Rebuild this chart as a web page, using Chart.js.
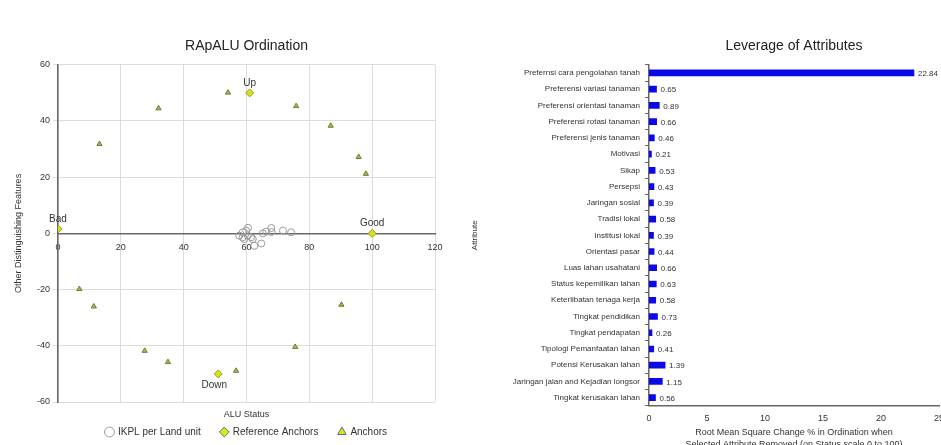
<!DOCTYPE html>
<html>
<head>
<meta charset="utf-8">
<script src="https://cdn.jsdelivr.net/npm/chart.js@4.4.1/dist/chart.umd.min.js"></script>
<style>
  html, body { margin: 0; padding: 0; background: #fff; overflow: hidden; }
  #leftBox { position: absolute; left: 0; top: 0; width: 470px; height: 445px; }
  #rightBox { position: absolute; left: 470px; top: 0; width: 485px; height: 450px; }
</style>
</head>
<body>
<div id="leftBox"><canvas id="ordinationChart" width="470" height="445"></canvas></div>
<div id="rightBox"><canvas id="leverageChart" width="485" height="450"></canvas></div>
<script>
// ---- ordination data ----
const ikplX = [57.7, 58.8, 59.9, 60.4, 58.8, 59.3, 61.5, 62.0, 62.5, 64.7, 65.2, 66.3, 67.9, 68.0, 71.6, 74.2, 60.5];
const ikplY = [-0.8, 0.4, 1.0, -0.8, -1.4, -2.0, -1.4, -2.0, -4.4, -3.6, 0.0, 0.6, 1.9, 0.5, 1.0, 0.4, 2.0];

const refNames = ['Good', 'Bad', 'Up', 'Down'];
const refX = [100, 0, 61, 51];
const refY = [0, 1.6, 50, -50];

const anchorX = [13.2, 32, 54.1, 75.8, 86.8, 95.7, 98, 6.8, 11.4, 27.6, 35, 56.7, 75.5, 90.2];
const anchorY = [31.8, 44.5, 50.1, 45.3, 38.3, 27.2, 21.2, -19.8, -26, -41.8, -45.8, -48.9, -40.4, -25.4];

// ---- leverage data ----
const attributes = [
  'Prefernsi cara pengolahan tanah',
  'Preferensi variasi tanaman',
  'Preferensi orientasi tanaman',
  'Preferensi rotasi tanaman',
  'Preferensi jenis tanaman',
  'Motivasi',
  'Sikap',
  'Persepsi',
  'Jaringan sosial',
  'Tradisi lokal',
  'Institusi lokal',
  'Orientasi pasar',
  'Luas lahan usahatani',
  'Status kepemilikan lahan',
  'Keterlibatan tenaga kerja',
  'Tingkat pendidikan',
  'Tingkat pendapatan',
  'Tipologi Pemanfaatan lahan',
  'Potensi Kerusakan lahan',
  'Jaringan jalan and Kejadian longsor',
  'Tingkat kerusakan lahan'
];
const leverage = [22.84, 0.65, 0.89, 0.66, 0.46, 0.21, 0.53, 0.43, 0.39, 0.58, 0.39, 0.44, 0.66, 0.63, 0.58, 0.73, 0.26, 0.41, 1.39, 1.15, 0.56];

const xTicks = [0, 20, 40, 60, 80, 100, 120];

const FONT = '"Liberation Sans", Arial, sans-serif';
Chart.defaults.font.family = FONT;
Chart.defaults.color = '#333';

function toPoints(xs, ys) {
  return xs.map((x, i) => ({ x: x, y: ys[i] }));
}

// labels next to reference anchors
const refLabelPlugin = {
  id: 'refLabels',
  afterDatasetsDraw(chart) {
    const meta = chart.getDatasetMeta(1);
    const ctx = chart.ctx;
    ctx.save();
    ctx.font = '10px ' + FONT;
    ctx.fillStyle = '#333';
    ctx.textAlign = 'center';
    meta.data.forEach((pt, i) => {
      const name = refNames[i];
      if (name === 'Down') {
        ctx.textBaseline = 'top';
        ctx.fillText(name, pt.x - 4, pt.y + 6);
      } else {
        ctx.textBaseline = 'bottom';
        ctx.fillText(name, pt.x, pt.y - 5);
      }
    });
    ctx.restore();
  }
};

const ordCtx = document.getElementById('ordinationChart').getContext('2d');
new Chart(ordCtx, {
  type: 'scatter',
  data: {
    datasets: [
      {
        label: 'IKPL per Land unit',
        data: toPoints(ikplX, ikplY),
        pointStyle: 'circle',
        pointRadius: 3.5,
        backgroundColor: 'rgba(255,255,255,0)',
        borderColor: '#9a9a9a',
        borderWidth: 1
      },
      {
        label: 'Reference Anchors',
        data: toPoints(refX, refY),
        pointStyle: 'rectRot',
        pointRadius: 4,
        backgroundColor: '#d8e020',
        borderColor: '#98a010',
        borderWidth: 1
      },
      {
        label: 'Anchors',
        data: toPoints(anchorX, anchorY),
        pointStyle: 'triangle',
        pointRadius: 3,
        backgroundColor: '#b4bc30',
        borderColor: '#6a7a40',
        borderWidth: 1
      }
    ]
  },
  options: {
    responsive: false,
    animation: false,
    layout: { padding: { left: 0, right: 35, top: 0, bottom: -2 } },
    scales: {
      x: {
        type: 'linear',
        position: { y: 0 },
        min: 0,
        max: 120,
        afterBuildTicks: s => { s.ticks = xTicks.map(v => ({ value: v })); },
        ticks: { font: { size: 9 }, color: '#333', padding: 5 },
        grid: { color: '#dcdcdc', tickLength: 4 },
        border: { color: '#666', width: 1.5 }
      },
      x2: {
        type: 'linear',
        position: 'bottom',
        ticks: { display: false },
        grid: { display: false, drawTicks: false, tickLength: 0 },
        border: { display: false },
        title: { display: true, text: 'ALU Status', font: { size: 9 }, color: '#333', padding: { top: 6.7, bottom: -12.5 } }
      },
      y: {
        type: 'linear',
        position: 'left',
        min: -60,
        max: 60,
        ticks: { stepSize: 20, font: { size: 9 }, color: '#333', padding: 3 },
        grid: { color: '#dcdcdc', tickLength: 5 },
        border: { color: '#666', width: 1.5 },
        title: { display: true, text: 'Other Distinguishing Features', font: { size: 9 }, color: '#333', padding: { top: 13, bottom: 0 } },
        afterFit: s => { s.width = 58; }
      }
    },
    plugins: {
      title: {
        display: true,
        fullSize: false,
        text: 'RApALU Ordination',
        font: { size: 14, weight: 'normal' },
        color: '#222',
        padding: { top: 38, bottom: 10 }
      },
      legend: {
        position: 'bottom',
        fullSize: false,
        labels: {
          usePointStyle: true,
          boxWidth: 7,
          boxHeight: 7,
          padding: 20,
          font: { size: 10 },
          color: '#333',
          generateLabels: chart => {
            const items = Chart.defaults.plugins.legend.labels.generateLabels(chart);
            items.forEach(it => {
              if (it.datasetIndex > 0) { it.strokeStyle = '#4a6ad0'; it.fillStyle = '#e4e800'; }
            });
            return items;
          }
        }
      },
      tooltip: { enabled: false }
    }
  },
  plugins: [refLabelPlugin]
});

// value labels at bar ends
const barValuePlugin = {
  id: 'barValues',
  afterDatasetsDraw(chart) {
    const meta = chart.getDatasetMeta(0);
    const ctx = chart.ctx;
    ctx.save();
    ctx.font = '8px ' + FONT;
    ctx.fillStyle = '#333';
    ctx.textAlign = 'left';
    ctx.textBaseline = 'middle';
    meta.data.forEach((bar, i) => {
      ctx.fillText(leverage[i].toFixed(2), bar.x + 4, bar.y + 1);
    });
    ctx.restore();
  }
};

const levCtx = document.getElementById('leverageChart').getContext('2d');
new Chart(levCtx, {
  type: 'bar',
  data: {
    labels: attributes,
    datasets: [{
      label: 'Leverage',
      data: leverage,
      backgroundColor: '#0a0ae8',
      barThickness: 6
    }]
  },
  options: {
    indexAxis: 'y',
    responsive: false,
    animation: false,
    layout: { padding: { left: 0, right: 16, top: 0, bottom: 0 } },
    scales: {
      x: {
        min: 0,
        max: 25,
        ticks: { stepSize: 5, font: { size: 9 }, color: '#333', padding: 7 },
        grid: { display: false, drawTicks: false, tickLength: 0 },
        border: { color: '#666', width: 1.5 },
        title: {
          display: true,
          text: ['Root Mean Square Change % in Ordination when', 'Selected Attribute Removed (on Status scale 0 to 100)'],
          font: { size: 9, lineHeight: 1.3 },
          color: '#333',
          padding: { top: -4, bottom: 0 }
        }
      },
      y: {
        ticks: { autoSkip: false, font: { size: 8 }, color: '#333', padding: 5 },
        grid: { drawOnChartArea: false, tickLength: 4, color: '#666' },
        border: { color: '#666', width: 1.5 },
        title: { display: true, text: 'Attribute', font: { size: 8 }, color: '#333', padding: { top: 0, bottom: 0 } },
        afterFit: s => { s.width = 179; }
      }
    },
    plugins: {
      title: {
        display: true,
        fullSize: false,
        text: 'Leverage of Attributes',
        font: { size: 14, weight: 'normal' },
        color: '#222',
        padding: { top: 38, bottom: 10 }
      },
      legend: { display: false },
      tooltip: { enabled: false }
    }
  },
  plugins: [barValuePlugin]
});
</script>
</body>
</html>
